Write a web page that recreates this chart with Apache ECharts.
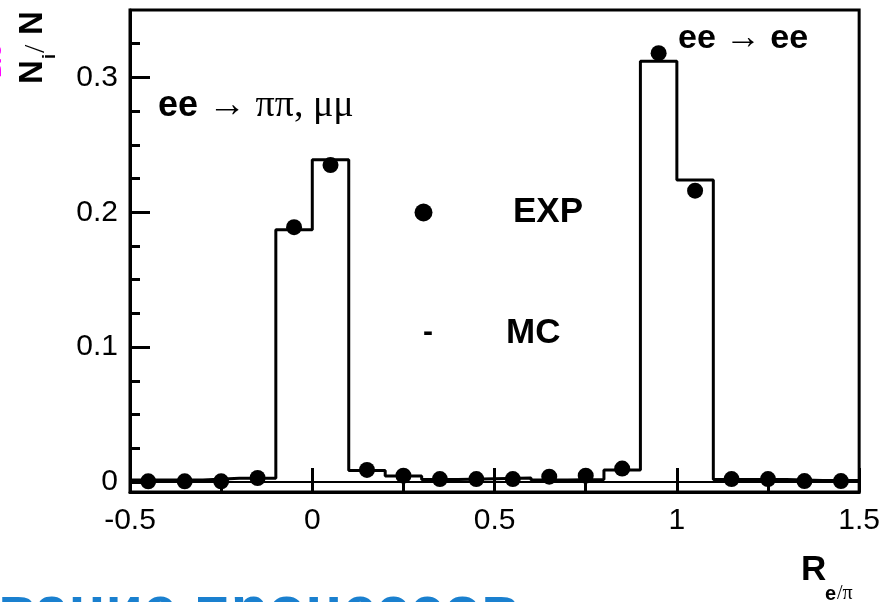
<!DOCTYPE html>
<html>
<head>
<meta charset="utf-8">
<script src="https://cdn.jsdelivr.net/npm/echarts@6/dist/echarts.min.js"></script>
<style>
html,body{margin:0;padding:0;background:#fff;}
#chart{width:883px;height:602px;}
</style>
</head>
<body>
<div id="chart"></div>
<script>
// Bin centers (bin width 0.1) and values
const binCenters = [-0.45,-0.35,-0.25,-0.15,-0.05,0.05,0.15,0.25,0.35,0.45,0.55,0.65,0.75,0.85,0.95,1.05,1.15,1.25,1.35,1.45];
const binWidth = 0.1;
const mcValues  = [0.0015,0.0015,0.0028,0.0028,0.187,0.239,0.0085,0.0045,0.0018,0.0025,0.0030,0.0015,0.0018,0.0090,0.312,0.224,0.0018,0.0018,0.0012,0.0012];
const expValues = [0.0005,0.0005,0.0005,0.0030,0.189,0.235,0.0090,0.0047,0.0022,0.0022,0.0022,0.0040,0.0047,0.0100,0.318,0.216,0.0022,0.0022,0.0007,0.0007];
const xTickLabels = ['-0.5','0','0.5','1','1.5'];
const yMajorTicks = [0,0.1,0.2,0.3];
const yMinorTicks = [0.025,0.05,0.075,0.125,0.15,0.175,0.225,0.25,0.275,0.325];
const BASELINE = -0.004;

const mcPath = [];
binCenters.forEach((c,i)=>{
  mcPath.push([+(c-binWidth/2).toFixed(3), mcValues[i]]);
  mcPath.push([+(c+binWidth/2).toFixed(3), mcValues[i]]);
});
const expPoints = binCenters.map((c,i)=>[c, expValues[i]]);

const SANS = 'Liberation Sans, Arial, Helvetica, sans-serif';
const SERIF = 'Liberation Serif, DejaVu Serif, serif';

const chart = echarts.init(document.getElementById('chart'), null, {renderer:'canvas'});
const black = '#000';
const option = {
  animation:false,
  backgroundColor:'#fff',
  grid:{left:130,right:21,top:10,bottom:110,show:true,borderColor:black,borderWidth:3,backgroundColor:'transparent'},
  xAxis:{
    type:'value',min:-0.5,max:1.5,interval:0.5,
    axisLine:{show:true,onZero:false,lineStyle:{color:black,width:3}},
    axisTick:{inside:true,length:24,lineStyle:{color:black,width:3}},
    minorTick:{show:true,splitNumber:2,length:14,lineStyle:{color:black,width:3}},
    splitLine:{show:false},minorSplitLine:{show:false},
    axisLabel:{color:black,fontSize:30,fontFamily:SANS,margin:14,
      formatter:(v)=>{const i=Math.round((v+0.5)/0.5);return xTickLabels[i]!==undefined?xTickLabels[i]:String(v);}}
  },
  yAxis:[{
    type:'value',min:-0.0074,max:0.35,position:'left',
    axisLine:{show:true,onZero:false,lineStyle:{color:black,width:3}},
    axisTick:{show:true,inside:true,length:20,customValues:yMajorTicks,lineStyle:{color:black,width:3}},
    axisLabel:{show:true,customValues:yMajorTicks,color:black,fontSize:30,fontFamily:SANS,margin:12,formatter:(v)=>String(v)},
    splitLine:{show:false}
  },{
    type:'value',min:-0.0074,max:0.35,position:'left',
    axisLine:{show:false,onZero:false},
    axisTick:{show:true,inside:true,length:10,customValues:yMinorTicks,lineStyle:{color:black,width:3}},
    axisLabel:{show:false},
    splitLine:{show:false}
  }],
  series:[
    {type:'line',name:'MC',data:mcPath,showSymbol:false,symbol:'none',
     lineStyle:{color:black,width:3},
     markLine:{silent:true,symbol:'none',label:{show:false},lineStyle:{color:black,width:2,type:'solid'},data:[{yAxis:BASELINE}]}},
    {type:'scatter',name:'EXP',data:expPoints,symbolSize:16,itemStyle:{color:black,opacity:1}}
  ],
  graphic:[
    {type:'text',left:158,top:87,style:{
      text:'{a|ee }{b|→ ππ, μμ}',
      rich:{a:{fontFamily:SANS,fontWeight:'bold',fontSize:36,fill:black},b:{fontFamily:SERIF,fontSize:38,fill:black}}}},
    {type:'text',left:678,top:21,style:{
      text:'{a|ee }{b|→ }{a|ee}',
      rich:{a:{fontFamily:SANS,fontWeight:'bold',fontSize:34,fill:black},b:{fontFamily:SERIF,fontSize:36,fill:black}}}},
    {type:'circle',shape:{cx:423.5,cy:212.5,r:9},style:{fill:black}},
    {type:'text',x:513,y:212,style:{text:'EXP',fontFamily:SANS,fontWeight:'bold',fontSize:35,fill:black,verticalAlign:'middle'}},
    {type:'text',x:423,y:333,style:{text:'-',fontFamily:SANS,fontWeight:'bold',fontSize:30,fill:black,verticalAlign:'middle'}},
    {type:'text',x:506,y:333,style:{text:'MC',fontFamily:SANS,fontWeight:'bold',fontSize:35,fill:black,verticalAlign:'middle'}},
    // Y axis title N_i/N rotated
    {type:'group',x:49,y:84,rotation:Math.PI/2,children:[
      {type:'text',x:0,y:0,style:{text:'N',fontFamily:SANS,fontWeight:'bold',fontSize:33,fill:black,verticalAlign:'bottom'}},
      {type:'text',x:25,y:10,style:{text:'i',fontFamily:SANS,fontWeight:'bold',fontSize:18,fill:black,verticalAlign:'bottom'}},
      {type:'text',x:31,y:2,style:{text:'/',fontFamily:SERIF,fontSize:30,fill:black,verticalAlign:'bottom'}},
      {type:'text',x:49,y:0,style:{text:'N',fontFamily:SANS,fontWeight:'bold',fontSize:33,fill:black,verticalAlign:'bottom'}}
    ]},
    // X axis title R_e/pi
    {type:'text',x:801,y:588,style:{text:'R',fontFamily:SANS,fontWeight:'bold',fontSize:35,fill:black,verticalAlign:'bottom'}},
    {type:'text',x:825,y:604,style:{text:'e',fontFamily:SANS,fontWeight:'bold',fontSize:20,fill:black,verticalAlign:'bottom'}},
    {type:'text',x:837,y:604,style:{text:'/π',fontFamily:SERIF,fontSize:20,fill:black,verticalAlign:'bottom'}},
    // cut-off slide texts
    {type:'text',x:-2,y:612,style:{text:'вание процессов',fontFamily:SANS,fontWeight:'bold',fontSize:61,fill:'#1a80cf',verticalAlign:'middle'}},
    {type:'text',x:6,y:78,rotation:Math.PI/2,style:{text:'ые',fontFamily:SANS,fontWeight:'bold',fontSize:24,fill:'#ff00ff',verticalAlign:'bottom'}}
  ]
};
chart.setOption(option);
</script>
</body>
</html>
